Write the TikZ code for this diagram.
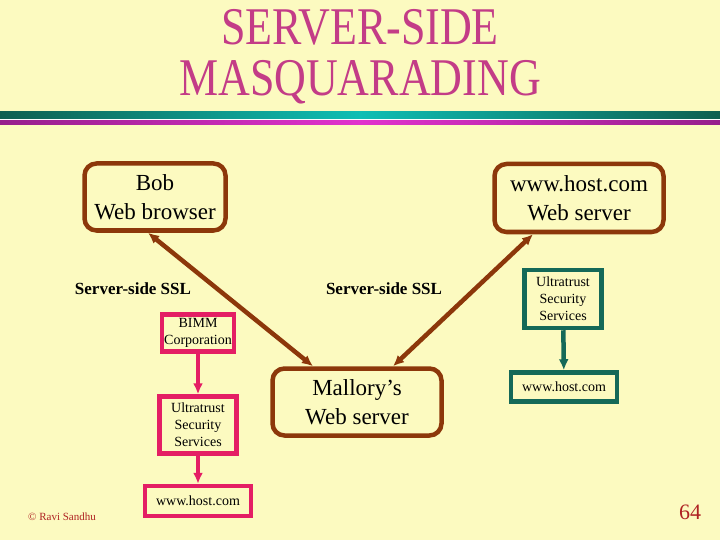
\documentclass[tikz,border=0pt]{standalone}
\usepackage{fontspec}
\setmainfont{Liberation Serif}
\newfontfamily\titlefont[FakeStretch=0.83]{Liberation Serif}
\usetikzlibrary{arrows.meta,positioning}
\definecolor{slidebg}{RGB}{252,250,192}
\definecolor{slidetitle}{RGB}{195,60,135}
\definecolor{slidebrown}{RGB}{140,55,10}
\definecolor{slidepink}{RGB}{228,30,100}
\definecolor{slideteal}{RGB}{20,105,88}
\definecolor{slidered}{RGB}{175,35,35}
\definecolor{bartealdark}{RGB}{15,95,80}
\definecolor{bartealmid}{RGB}{15,190,180}
\definecolor{barmagdark}{RGB}{150,30,140}
\definecolor{barmagmid}{RGB}{225,50,205}

\begin{document}
\begin{tikzpicture}[x=1pt,y=-1pt,>={Latex[length=11pt,width=10pt]},
  serverbox/.style={draw=slidebrown,line width=4.5pt,rounded corners=12pt,
    align=center,inner sep=0pt,font=\fontsize{23}{29}\selectfont},
  bimmbox/.style={draw=slidepink,line width=4.5pt,align=center,inner sep=0pt,
    font=\fontsize{14}{17}\selectfont},
  hostbox/.style={bimmbox,draw=slideteal},
  ssllabel/.style={font=\bfseries\fontsize{17}{20}\selectfont}]
 \fill[slidebg] (0,0) rectangle (720,540);
 \useasboundingbox (0,0) rectangle (720,540);
 \shade[left color=bartealdark,right color=bartealdark,middle color=bartealmid]
   (0,112) rectangle (720,119);
 \fill[white] (0,119) rectangle (720,121);
 \shade[left color=barmagdark,right color=barmagdark,middle color=barmagmid]
   (0,121) rectangle (720,125);
 \node[text=slidetitle,align=center,inner sep=0pt,
   font=\titlefont\fontsize{53}{51}\selectfont] (title) at (360,57)
   {SERVER-SIDE\\MASQUARADING};
 \node[serverbox,minimum width=141pt,minimum height=67pt] (bob) at (155,197)
   {Bob\\Web browser};
 \node[serverbox,minimum width=169pt,minimum height=68pt] (host) at (579,198)
   {www.host.com\\Web server};
 \node[serverbox,minimum width=169pt,minimum height=67pt] (mallory) at (357,402)
   {Mallory’s\\Web server};
 \node[ssllabel] (sslleft) at (133,289) {Server-side SSL};
 \node[ssllabel] (sslright) at (384,289) {Server-side SSL};
 \node[bimmbox,minimum width=72pt,minimum height=37pt] (bimm) at (198,333)
   {BIMM\\Corporation};
 \node[bimmbox,minimum width=77pt,minimum height=57pt] (trustleft) at (198,425)
   {Ultratrust\\Security\\Services};
 \node[bimmbox,minimum width=106pt,minimum height=30pt] (wwwleft) at (198,501)
   {www.host.com};
 \node[hostbox,minimum width=77pt,minimum height=58pt] (trustright) at (563,299)
   {Ultratrust\\Security\\Services};
 \node[hostbox,minimum width=106pt,minimum height=29pt] (wwwright) at (564,387)
   {www.host.com};
 \draw[<->,slidebrown,line width=4.5pt] ([xshift=-7pt]bob.south)
   -- ([xshift=-44pt]mallory.north);
 \draw[<->,slidebrown,line width=4.5pt] ([xshift=36pt]mallory.north)
   -- ([xshift=-46pt]host.south);
 \draw[->,slidepink,line width=4.5pt] (bimm) -- (trustleft);
 \draw[->,slidepink,line width=4.5pt] (trustleft) -- (wwwleft);
 \draw[->,slideteal,line width=4.5pt] (trustright) -- (wwwright);
 \node[text=slidered,font=\fontsize{11}{13}\selectfont] (credit) at (62,517)
   {© Ravi Sandhu};
 \node[text=slidered,font=\fontsize{22}{26}\selectfont] (pagenum) at (690,512)
   {64};
\end{tikzpicture}
\end{document}
